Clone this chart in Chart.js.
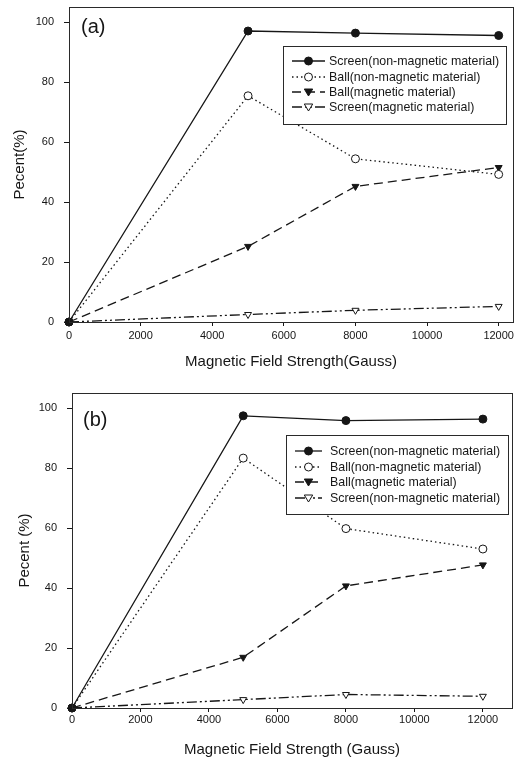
<!DOCTYPE html>
<html>
<head>
<meta charset="utf-8">
<script src="https://cdn.jsdelivr.net/npm/chart.js@4.4.1/dist/chart.umd.min.js"></script>
<style>
  html, body { margin: 0; padding: 0; background: #fff; }
  body { width: 525px; height: 763px; position: relative; overflow: hidden; }
  .panel { position: absolute; left: 0; }
  #wrapA { top: 0; }
  #wrapB { top: 380px; }
</style>
</head>
<body>
<div class="panel" id="wrapA"><canvas id="chartA" width="525" height="380"></canvas></div>
<div class="panel" id="wrapB"><canvas id="chartB" width="525" height="383"></canvas></div>
<script>
// field strengths (Gauss) shared by every series
const fieldGauss = [0, 5000, 8000, 12000];
const xTickValues = [0, 2000, 4000, 6000, 8000, 10000, 12000];
const yTickValues = [0, 20, 40, 60, 80, 100];

// panel (a)
const screenNonMagA = [0, 97.0, 96.3, 95.5];
const ballNonMagA = [0, 75.4, 54.4, 49.2];
const ballMagA = [0, 25.2, 45.2, 51.5];
const screenMagA = [0, 2.5, 3.9, 5.2];
const labelsA = ['Screen(non-magnetic material)', 'Ball(non-magnetic material)', 'Ball(magnetic material)', 'Screen(magnetic material)'];

// panel (b)
const screenNonMagB = [0, 97.4, 95.8, 96.3];
const ballNonMagB = [0, 83.3, 59.8, 53.0];
const ballMagB = [0, 16.9, 40.7, 47.7];
const screenMagB = [0, 2.8, 4.5, 3.9];
const labelsB = ['Screen(non-magnetic material)', 'Ball(non-magnetic material)', 'Ball(magnetic material)', 'Screen(non-magnetic material)'];

const INK = '#161616';
const FONT = '"Liberation Sans", Arial, sans-serif';

// line / marker look of the four series, same in both panels
const seriesStyles = [
    { dash: [], marker: 'circle', fill: INK, rot: 0 },
    { dash: [1.5, 3], marker: 'circle', fill: '#fff', rot: 0 },
    { dash: [9, 5], marker: 'triangle', fill: INK, rot: 180 },
    { dash: [10, 3, 2, 3, 2, 3], marker: 'triangle', fill: '#fff', rot: 180 }
];

function makeDatasets(labels, seriesList) {
    return seriesList.map((vals, i) => {
        const st = seriesStyles[i];
        return {
            label: labels[i],
            data: fieldGauss.map((x, k) => ({ x: x, y: vals[k] })),
            borderColor: INK,
            borderWidth: 1.3,
            borderDash: st.dash,
            pointStyle: st.marker,
            pointRotation: st.rot,
            pointRadius: 4,
            pointBorderWidth: 1,
            pointBackgroundColor: st.fill,
            pointBorderColor: INK,
            tension: 0,
            clip: false
        };
    });
}

function drawMarker(ctx, style, x, y, r) {
    ctx.beginPath();
    if (style.marker === 'circle') {
        ctx.arc(x, y, r, 0, Math.PI * 2);
    } else {
        // downward triangle
        const h = r * 1.5;
        ctx.moveTo(x - r * 1.05, y - h / 2);
        ctx.lineTo(x + r * 1.05, y - h / 2);
        ctx.lineTo(x, y + h / 2 + 1);
        ctx.closePath();
    }
    ctx.fillStyle = style.fill;
    ctx.fill();
    ctx.strokeStyle = INK;
    ctx.lineWidth = 1;
    ctx.stroke();
}

// frame, panel tag and boxed legend inside the plot
const framePlugin = {
    id: 'frameLegend',
    afterDatasetsDraw(chart, args, opts) {
        const ctx = chart.ctx;
        const a = chart.chartArea;
        ctx.save();
        ctx.setLineDash([]);
        ctx.strokeStyle = '#2a2a2a';
        ctx.lineWidth = 1;
        ctx.strokeRect(Math.round(a.left) + 0.5, Math.round(a.top) + 0.5,
            Math.round(a.right - a.left), Math.round(a.bottom - a.top));

        ctx.fillStyle = INK;
        ctx.font = '20px ' + FONT;
        ctx.textBaseline = 'middle';
        ctx.textAlign = 'left';
        ctx.fillText(opts.tag, opts.tagX, opts.tagY);

        const L = opts.legend;
        ctx.fillStyle = '#fff';
        ctx.fillRect(L.x, L.y, L.w, L.h);
        ctx.strokeStyle = '#2a2a2a';
        ctx.strokeRect(L.x + 0.5, L.y + 0.5, L.w, L.h);
        ctx.font = '12.4px ' + FONT;
        chart.data.datasets.forEach((ds, i) => {
            const ry = L.y + L.rows[i];
            ctx.strokeStyle = INK;
            ctx.lineWidth = 1.3;
            ctx.setLineDash(seriesStyles[i].dash);
            ctx.beginPath();
            ctx.moveTo(L.x + L.s1, ry);
            ctx.lineTo(L.x + L.s2, ry);
            ctx.stroke();
            ctx.setLineDash([]);
            drawMarker(ctx, seriesStyles[i], L.x + (L.s1 + L.s2) / 2, ry, 4);
            ctx.fillStyle = INK;
            ctx.fillText(ds.label, L.x + L.tx, ry + 0.5);
        });
        ctx.restore();
    }
};

function makeChart(canvasId, datasets, cfg) {
    return new Chart(document.getElementById(canvasId), {
        type: 'line',
        data: { datasets: datasets },
        plugins: [framePlugin],
        options: {
            responsive: false,
            animation: false,
            layout: { padding: { top: cfg.padTop, right: cfg.padRight, left: 0, bottom: 0 } },
            plugins: {
                legend: { display: false },
                tooltip: { enabled: false },
                frameLegend: cfg.overlay
            },
            scales: {
                x: {
                    type: 'linear',
                    min: 0,
                    max: cfg.xMax,
                    afterBuildTicks: (s) => { s.ticks = xTickValues.map(v => ({ value: v })); },
                    afterFit: (s) => {
                        s.height = cfg.xAxisH;
                        s.paddingLeft = 0;
                        s.paddingRight = 0;
                    },
                    grid: { drawOnChartArea: false, drawTicks: true, tickLength: 4, color: INK },
                    border: { display: true, color: '#2a2a2a' },
                    ticks: { color: INK, font: { family: FONT, size: 11 }, padding: cfg.xTickPad,
                        maxRotation: 0, callback: (v) => String(v) },
                    title: { display: true, text: cfg.xTitle, color: INK,
                        font: { family: FONT, size: 15 }, padding: { top: 0, bottom: cfg.xTitlePad } }
                },
                y: {
                    type: 'linear',
                    min: 0,
                    max: 105,
                    afterBuildTicks: (s) => { s.ticks = yTickValues.map(v => ({ value: v })); },
                    afterFit: (s) => {
                        s.width = cfg.yAxisW;
                        s.paddingTop = 0;
                        s.paddingBottom = 0;
                    },
                    grid: { drawOnChartArea: false, drawTicks: true, tickLength: 5, color: INK },
                    border: { display: true, color: '#2a2a2a' },
                    ticks: { color: INK, font: { family: FONT, size: 11 }, padding: cfg.yTickPad,
                        callback: (v) => String(v) },
                    title: { display: true, text: cfg.yTitle, color: INK,
                        font: { family: FONT, size: 15 }, padding: { top: cfg.yTitlePad, bottom: 0 } }
                }
            }
        }
    });
}

makeChart('chartA', makeDatasets(labelsA, [screenNonMagA, ballNonMagA, ballMagA, screenMagA]), {
    padTop: 7, padRight: 12, xMax: 12400, xAxisH: 58, yAxisW: 69,
    xTitle: 'Magnetic Field Strength(Gauss)', yTitle: 'Pecent(%)',
    xTickPad: 3, xTitlePad: 9, yTitlePad: 11, yTickPad: 10,
    overlay: {
        tag: '(a)', tagX: 81, tagY: 27,
        legend: { x: 283, y: 46, w: 223, h: 78, rows: [15, 31, 46, 61], s1: 9, s2: 42, tx: 46 }
    }
});

makeChart('chartB', makeDatasets(labelsB, [screenNonMagB, ballNonMagB, ballMagB, screenMagB]), {
    padTop: 13, padRight: 13, xMax: 12850, xAxisH: 55, yAxisW: 72,
    xTitle: 'Magnetic Field Strength (Gauss)', yTitle: 'Pecent (%)',
    xTickPad: 1, xTitlePad: 4, yTitlePad: 16, yTickPad: 10,
    overlay: {
        tag: '(b)', tagX: 83, tagY: 40,
        legend: { x: 286, y: 55, w: 222, h: 79, rows: [16, 32, 47, 63], s1: 9, s2: 36, tx: 44 }
    }
});
</script>
</body>
</html>
